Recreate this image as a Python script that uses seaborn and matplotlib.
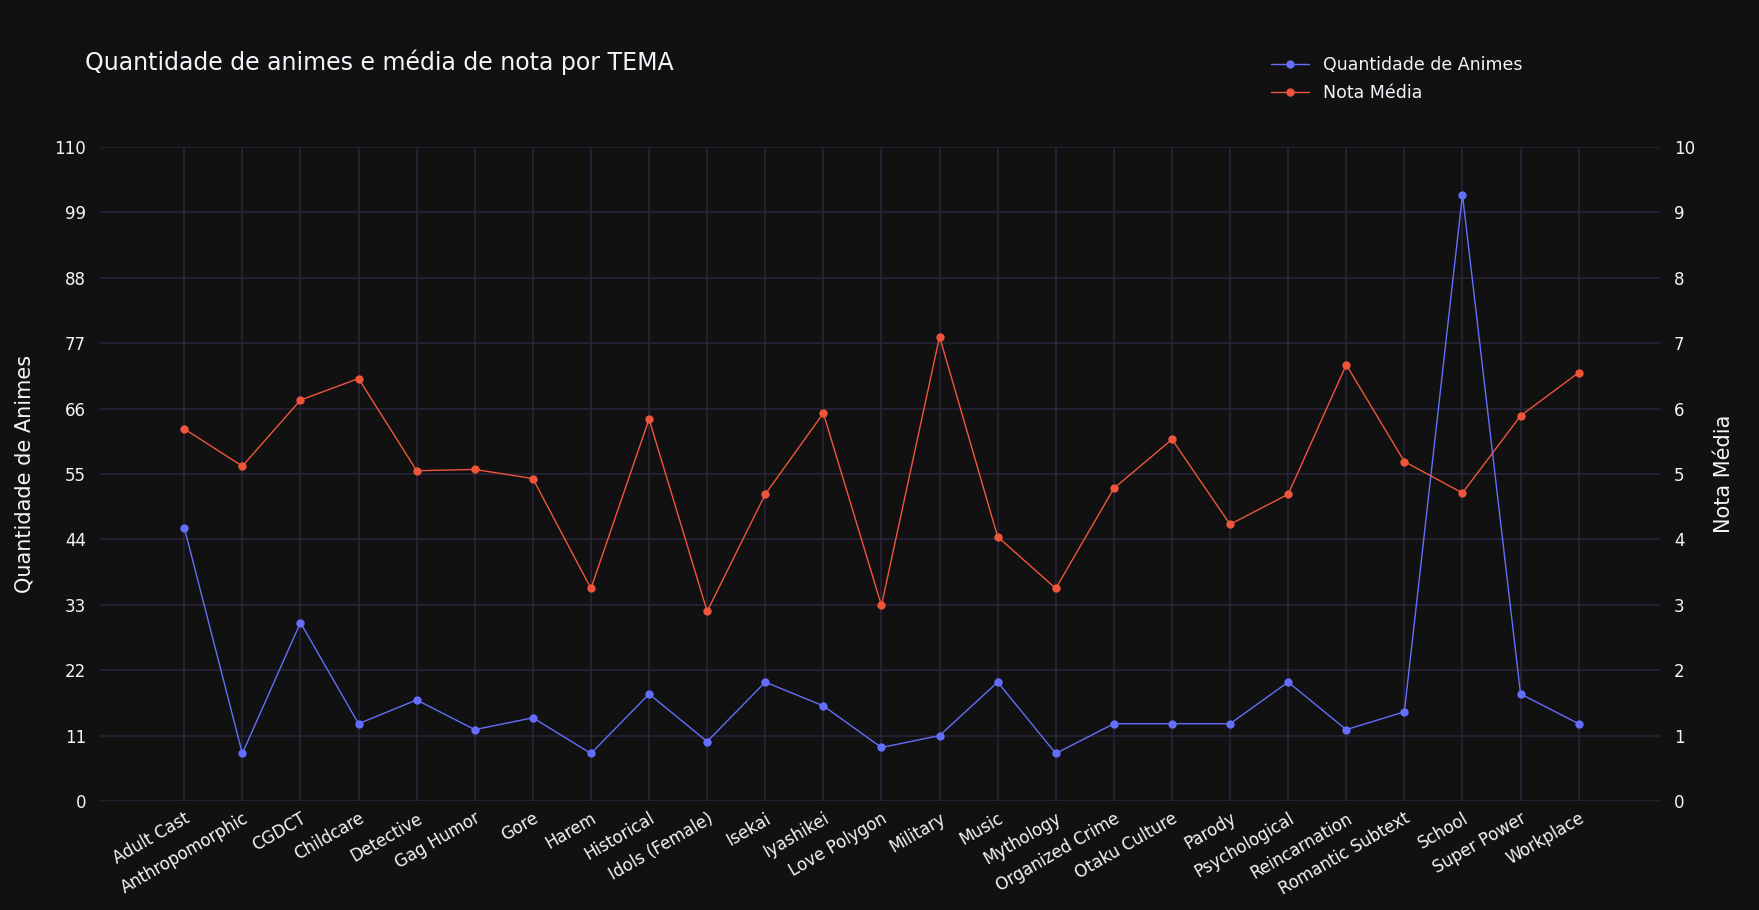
import matplotlib
matplotlib.use("Agg")
import matplotlib.pyplot as plt
import seaborn as sns
import pandas as pd
from matplotlib.lines import Line2D

temas = ["Adult Cast", "Anthropomorphic", "CGDCT", "Childcare", "Detective", "Gag Humor",
         "Gore", "Harem", "Historical", "Idols (Female)", "Isekai", "Iyashikei", "Love Polygon",
         "Military", "Music", "Mythology", "Organized Crime", "Otaku Culture", "Parody",
         "Psychological", "Reincarnation", "Romantic Subtext", "School", "Super Power", "Workplace"]
quantidade = [46, 8, 30, 13, 17, 12, 14, 8, 18, 10, 20, 16, 9, 11, 20, 8, 13, 13, 13, 20, 12, 15, 102, 18, 13]
nota_media = [5.69, 5.12, 6.13, 6.46, 5.05, 5.07, 4.93, 3.25, 5.84, 2.90, 4.69, 5.93, 2.99,
              7.10, 4.04, 3.25, 4.78, 5.53, 4.23, 4.69, 6.67, 5.19, 4.71, 5.89, 6.55]

df = pd.DataFrame({"tema": temas, "pos": range(len(temas)),
                   "quantidade": quantidade, "nota": nota_media})

bg = "#111111"
grid = "#2a2438"
fg = "#f2f5fa"
blue = "#636efa"
red = "#EF553B"

sns.set_theme(style="dark")
plt.rcParams["font.family"] = ["DejaVu Sans"]

fig = plt.figure(figsize=(17.59, 9.10), dpi=100, facecolor=bg)
ax = fig.add_axes([100 / 1759, 1 - 801 / 910, 1560 / 1759, 654 / 910])
ax.set_facecolor(bg)
ax2 = ax.twinx()

sns.lineplot(data=df, x="pos", y="quantidade", ax=ax, color=blue, marker="o",
             markersize=6, markeredgewidth=0, linewidth=1)
sns.lineplot(data=df, x="pos", y="nota", ax=ax2, color=red, marker="o",
             markersize=6, markeredgewidth=0, linewidth=1)

ax.set_xlim(-1.45, 25.4)
ax.set_ylim(0, 110)
ax.set_yticks(range(0, 111, 11))
ax2.set_ylim(0, 10)
ax2.set_yticks(range(0, 11))
ax.set_xticks(range(len(temas)))
ax.set_xticklabels(temas, rotation=30, ha="right", rotation_mode="anchor")

for a in (ax, ax2):
    for s in a.spines.values():
        s.set_visible(False)
    a.tick_params(colors=fg, labelsize=12, length=0, pad=10)
ax.tick_params(axis="x", pad=6)
ax.grid(True, color=grid, linewidth=1.2)
ax2.grid(False)
ax.set_axisbelow(True)

ax.set_xlabel("TEMA", color=fg, fontsize=15, labelpad=8)
ax.set_ylabel("Quantidade de Animes", color=fg, fontsize=15, labelpad=14)
ax2.set_ylabel("Nota Média", color=fg, fontsize=15, labelpad=14)

fig.text(85 / 1759, 1 - 62 / 910, "Quantidade de animes e média de nota por TEMA",
         color=fg, fontsize=17, va="center")

handles = [Line2D([], [], color=blue, marker="o", markersize=5, linewidth=1),
           Line2D([], [], color=red, marker="o", markersize=5, linewidth=1)]
leg = fig.legend(handles, ["Quantidade de Animes", "Nota Média"], loc="upper left",
                 bbox_to_anchor=(1255 / 1759, 1 - 40 / 910), frameon=False,
                 fontsize=12.5, labelcolor=fg, handlelength=2.2, labelspacing=0.6)

fig.savefig("out.png", dpi=100, facecolor=bg)
